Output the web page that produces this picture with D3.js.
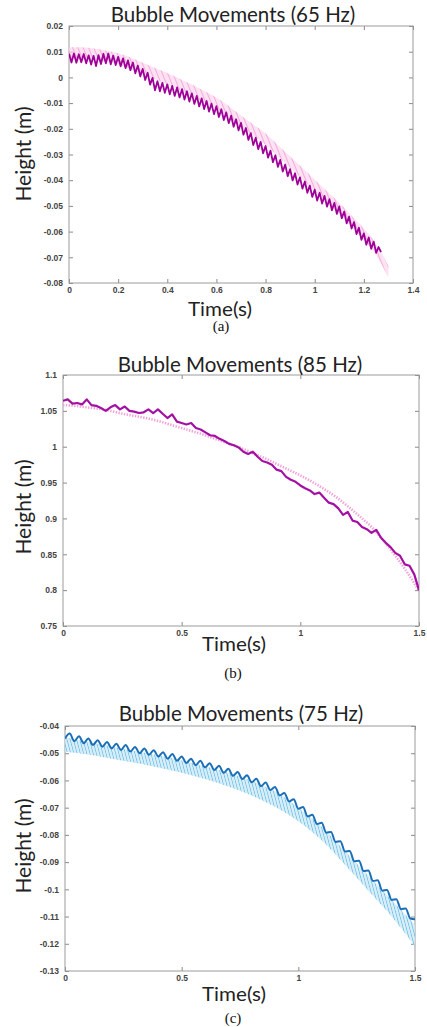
<!DOCTYPE html>
<html>
<head>
<meta charset="utf-8">
<script src="https://d3js.org/d3.v7.min.js"></script>
<style>
  body { margin: 0; background: #fff; }
  .tick text { font-family: "Liberation Sans", Arial, sans-serif; font-weight: bold; font-size: 8.5px; fill: #444; }
  .tick line { stroke: #8a8a8a; }
  .ttl { font-family: Lato, "Open Sans", sans-serif; fill: #222; }
  .cap { font-family: "Liberation Serif", "Times New Roman", serif; fill: #111; }
</style>
</head>
<body>
<script>

// ---------- panel (a) : 65 Hz ----------
var ticksA_y = [0.02, 0.01, 0, -0.01, -0.02, -0.03, -0.04, -0.05, -0.06, -0.07, -0.08];
var labelsA_y = ["0.02", "0.01", "0", "-0.01", "-0.02", "-0.03", "-0.04", "-0.05", "-0.06", "-0.07", "-0.08"];
var ticksA_x = [0, 0.2, 0.4, 0.6, 0.8, 1, 1.2, 1.4];
var labelsA_x = ["0", "0.2", "0.4", "0.6", "0.8", "1", "1.2", "1.4"];

// measured bubble height, one value every 0.01 s from t = 0
var measA_dt = 0.01;
var measA = [
  0.0092, 0.0058, 0.0093, 0.0057, 0.0090, 0.0059, 0.0091, 0.0055, 0.0086, 0.0050,
  0.0084, 0.0044, 0.0087, 0.0052, 0.0092, 0.0055, 0.0093, 0.0051, 0.0085, 0.0048,
  0.0080, 0.0043, 0.0074, 0.0036, 0.0066, 0.0028, 0.0058, 0.0016, 0.0046, 0.0004,
  0.0033, -0.0010, 0.0018, -0.0028, -0.0002, -0.0050, -0.0015, -0.0054, -0.0021, -0.0060,
  -0.0027, -0.0066, -0.0033, -0.0072, -0.0039, -0.0078, -0.0046, -0.0086, -0.0054, -0.0094,
  -0.0062, -0.0103, -0.0072, -0.0113, -0.0082, -0.0123, -0.0092, -0.0133, -0.0102, -0.0143,
  -0.0112, -0.0154, -0.0124, -0.0166, -0.0136, -0.0178, -0.0149, -0.0192, -0.0163, -0.0206,
  -0.0177, -0.0223, -0.0197, -0.0243, -0.0217, -0.0263, -0.0235, -0.0279, -0.0251, -0.0295,
  -0.0267, -0.0312, -0.0285, -0.0330, -0.0303, -0.0348, -0.0321, -0.0366, -0.0339, -0.0384,
  -0.0357, -0.0401, -0.0373, -0.0417, -0.0389, -0.0433, -0.0405, -0.0449, -0.0421, -0.0465,
  -0.0437, -0.0479, -0.0449, -0.0491, -0.0461, -0.0503, -0.0474, -0.0517, -0.0488, -0.0531,
  -0.0502, -0.0548, -0.0522, -0.0568, -0.0542, -0.0588, -0.0563, -0.0610, -0.0585, -0.0632,
  -0.0607, -0.0651, -0.0623, -0.0667, -0.0639, -0.0683, -0.0660, -0.0680
];

// simulated height (fast oscillation) : upper / lower envelope every 0.05 s
var simA_dt = 0.05;
var simA_hi = [0.0117, 0.0117, 0.0112, 0.0105, 0.0094, 0.0077, 0.0057, 0.0037, 0.0017, -0.0005,
  -0.0028, -0.0053, -0.0078, -0.0111, -0.0148, -0.0183, -0.0218, -0.0263, -0.0308, -0.0353,
  -0.0398, -0.0443, -0.0488, -0.0538, -0.0588, -0.0648, -0.0735];
var simA_lo = [0.0073, 0.0073, 0.0068, 0.0061, 0.0050, 0.0033, 0.0013, -0.0007, -0.0027, -0.0049,
  -0.0072, -0.0097, -0.0122, -0.0155, -0.0192, -0.0227, -0.0262, -0.0307, -0.0352, -0.0397,
  -0.0442, -0.0487, -0.0532, -0.0582, -0.0632, -0.0692, -0.0778];

// ---------- panel (b) : 85 Hz ----------
var ticksB_y = [1.1, 1.05, 1, 0.95, 0.9, 0.85, 0.8, 0.75];
var labelsB_y = ["1.1", "1.05", "1", "0.95", "0.9", "0.85", "0.8", "0.75"];
var ticksB_x = [0, 0.5, 1, 1.5];
var labelsB_x = ["0", "0.5", "1", "1.5"];

var measB_dt = 0.02;
var measB = [
  1.064, 1.066, 1.060, 1.061, 1.059, 1.066, 1.058, 1.057, 1.054, 1.050,
  1.055, 1.058, 1.052, 1.056, 1.050, 1.049, 1.047, 1.048, 1.052, 1.047,
  1.052, 1.046, 1.040, 1.045, 1.035, 1.033, 1.031, 1.033, 1.026, 1.024,
  1.020, 1.016, 1.015, 1.011, 1.008, 1.004, 1.002, 0.999, 0.993, 0.990,
  0.993, 0.986, 0.980, 0.978, 0.975, 0.968, 0.966, 0.958, 0.954, 0.951,
  0.946, 0.942, 0.939, 0.934, 0.936, 0.929, 0.922, 0.920, 0.914, 0.905,
  0.909, 0.897, 0.895, 0.888, 0.885, 0.880, 0.884, 0.873, 0.866, 0.860,
  0.852, 0.848, 0.836, 0.834, 0.822, 0.800
];

var simB_dt = 0.05;
var simB = [
  1.058, 1.057, 1.055, 1.053, 1.050, 1.046, 1.043, 1.040, 1.036, 1.031,
  1.026, 1.021, 1.016, 1.010, 1.004, 0.998, 0.991, 0.984, 0.976, 0.968,
  0.960, 0.951, 0.941, 0.930, 0.917, 0.903, 0.888, 0.869, 0.848, 0.825, 0.799
];

// ---------- panel (c) : 75 Hz ----------
var ticksC_y = [-0.04, -0.05, -0.06, -0.07, -0.08, -0.09, -0.1, -0.11, -0.12, -0.13];
var labelsC_y = ["-0.04", "-0.05", "-0.06", "-0.07", "-0.08", "-0.09", "-0.1", "-0.11", "-0.12", "-0.13"];
var ticksC_x = [0, 0.5, 1, 1.5];
var labelsC_x = ["0", "0.5", "1", "1.5"];

var measC_dt = 0.02;
var measC = [
  -0.0446, -0.0428, -0.0456, -0.0438, -0.0463, -0.0446, -0.0470, -0.0452, -0.0476, -0.0459,
  -0.0482, -0.0465, -0.0488, -0.0470, -0.0494, -0.0477, -0.0500, -0.0483, -0.0506, -0.0489,
  -0.0512, -0.0496, -0.0520, -0.0503, -0.0528, -0.0512, -0.0536, -0.0520, -0.0544, -0.0528,
  -0.0552, -0.0537, -0.0562, -0.0546, -0.0572, -0.0557, -0.0583, -0.0569, -0.0595, -0.0581,
  -0.0607, -0.0594, -0.0621, -0.0608, -0.0635, -0.0624, -0.0655, -0.0646, -0.0677, -0.0669,
  -0.0704, -0.0698, -0.0732, -0.0726, -0.0760, -0.0755, -0.0792, -0.0789, -0.0826, -0.0823,
  -0.0861, -0.0859, -0.0897, -0.0895, -0.0933, -0.0931, -0.0969, -0.0967, -0.1005, -0.1002,
  -0.1039, -0.1036, -0.1073, -0.1070, -0.1107, -0.1110
];

var simC_dt = 0.1;
var simC_hi = [-0.0440, -0.0460, -0.0475, -0.0492, -0.0507, -0.0527, -0.0548, -0.0572, -0.0602, -0.0640,
  -0.0700, -0.0770, -0.0860, -0.0950, -0.1040, -0.1130];
var simC_lo = [-0.0495, -0.0505, -0.0520, -0.0535, -0.0552, -0.0572, -0.0595, -0.0622, -0.0655, -0.0697,
  -0.0750, -0.0820, -0.0910, -0.1005, -0.1100, -0.1210];


var svg = d3.select("body").append("svg").attr("width", 427).attr("height", 1027);
var defs = svg.append("defs");

function hatch(id, color, w, angle, sw) {
  var p = defs.append("pattern").attr("id", id)
    .attr("patternUnits", "userSpaceOnUse")
    .attr("width", w).attr("height", 10)
    .attr("patternTransform", "rotate(" + angle + ")");
  p.append("line").attr("x1", 0).attr("y1", 0).attr("x2", 0).attr("y2", 10)
    .attr("stroke", color).attr("stroke-width", sw);
}
hatch("hatchA", "#f08fcf", 4.9, -22, 1.3);
hatch("hatchC", "#3fa9dd", 3.1, -15, 1.0);

function series(vals, dt) {
  return vals.map(function(v, i) { return {t: i * dt, v: v}; });
}
function band(hi, lo, dt) {
  return hi.map(function(v, i) { return {t: i * dt, hi: v, lo: lo[i]}; });
}

function frame(p) {
  var x = d3.scaleLinear().domain(p.xDomain).range([p.left, p.right]);
  var y = d3.scaleLinear().domain(p.yDomain).range([p.bottom, p.top]);
  var g = svg.append("g");

  g.append("g").attr("transform", "translate(0," + p.bottom + ")")
    .call(d3.axisBottom(x).tickValues(p.xTicks).tickFormat(function(d, i) { return p.xLabels[i]; })
      .tickSize(-4).tickPadding(4));
  g.append("g").attr("transform", "translate(0," + p.top + ")")
    .call(d3.axisTop(x).tickValues(p.xTicks).tickFormat("").tickSize(-4));
  g.append("g").attr("transform", "translate(" + p.left + ",0)")
    .call(d3.axisLeft(y).tickValues(p.yTicks).tickFormat(function(d, i) { return p.yLabels[i]; })
      .tickSize(-4).tickPadding(6));
  g.append("g").attr("transform", "translate(" + p.right + ",0)")
    .call(d3.axisRight(y).tickValues(p.yTicks).tickFormat("").tickSize(-4));
  g.selectAll(".domain").remove();

  g.append("rect").attr("x", p.left).attr("y", p.top)
    .attr("width", p.right - p.left).attr("height", p.bottom - p.top)
    .attr("fill", "none").attr("stroke", "#9b9b9b").attr("stroke-width", 1);

  defs.append("clipPath").attr("id", "clip" + p.id).append("rect")
    .attr("x", p.left).attr("y", p.top)
    .attr("width", p.right - p.left).attr("height", p.bottom - p.top);
  var plot = g.append("g").attr("clip-path", "url(#clip" + p.id + ")");

  g.append("text").attr("class", "ttl").attr("x", p.titleX).attr("y", p.titleY)
    .attr("text-anchor", "middle").style("font-size", "20.5px").text(p.title);
  g.append("text").attr("class", "ttl")
    .attr("transform", "translate(31," + p.ylabY + ") rotate(-90)")
    .attr("text-anchor", "middle").style("font-size", "21px").text("Height (m)");
  g.append("text").attr("class", "ttl").attr("x", p.xlabX).attr("y", p.xlabY)
    .attr("text-anchor", "middle").style("font-size", "20px")
    .attr("textLength", 64).attr("lengthAdjust", "spacingAndGlyphs").text("Time(s)");
  g.append("text").attr("class", "cap").attr("x", p.capX).attr("y", p.capY)
    .attr("text-anchor", "middle").style("font-size", "15px").text(p.cap);

  return {x: x, y: y, plot: plot};
}

// (a)
var A = frame({id: "A", left: 69, right: 413, top: 26, bottom: 283,
  xDomain: [0, 1.4], yDomain: [-0.08, 0.02],
  xTicks: ticksA_x, xLabels: labelsA_x, yTicks: ticksA_y, yLabels: labelsA_y,
  title: "Bubble Movements (65 Hz)", titleX: 233, titleY: 22,
  ylabY: 154, xlabX: 220, xlabY: 316, cap: "(a)", capX: 221, capY: 331});

A.plot.append("path").datum(band(simA_hi, simA_lo, simA_dt))
  .attr("d", d3.area().x(function(d) { return A.x(d.t); })
    .y0(function(d) { return A.y(d.lo); }).y1(function(d) { return A.y(d.hi); })
    .curve(d3.curveMonotoneX))
  .attr("fill", "#fbd6ee").attr("opacity", 0.7);
A.plot.append("path").datum(band(simA_hi, simA_lo, simA_dt))
  .attr("d", d3.area().x(function(d) { return A.x(d.t); })
    .y0(function(d) { return A.y(d.lo); }).y1(function(d) { return A.y(d.hi); })
    .curve(d3.curveMonotoneX))
  .attr("fill", "url(#hatchA)");
A.plot.append("path").datum(series(measA, measA_dt))
  .attr("d", d3.line().x(function(d) { return A.x(d.t); }).y(function(d) { return A.y(d.v); }))
  .attr("fill", "none").attr("stroke", "#9e0098").attr("stroke-width", 1.8)
  .attr("stroke-linejoin", "round");

// (b)
var B = frame({id: "B", left: 63, right: 419, top: 375, bottom: 626,
  xDomain: [0, 1.5], yDomain: [0.75, 1.1],
  xTicks: ticksB_x, xLabels: labelsB_x, yTicks: ticksB_y, yLabels: labelsB_y,
  title: "Bubble Movements (85 Hz)", titleX: 240, titleY: 372,
  ylabY: 507, xlabX: 234, xlabY: 651, cap: "(b)", capX: 233, capY: 678});

B.plot.append("path").datum(series(simB, simB_dt))
  .attr("d", d3.line().x(function(d) { return B.x(d.t); }).y(function(d) { return B.y(d.v); })
    .curve(d3.curveMonotoneX))
  .attr("fill", "none").attr("stroke", "#f2a2d8").attr("stroke-width", 2.6)
  .attr("stroke-dasharray", "1.4 1.4");
B.plot.append("path").datum(series(measB, measB_dt))
  .attr("d", d3.line().x(function(d) { return B.x(d.t); }).y(function(d) { return B.y(d.v); }))
  .attr("fill", "none").attr("stroke", "#a310a3").attr("stroke-width", 2.2)
  .attr("stroke-linejoin", "round");

// (c)
var C = frame({id: "C", left: 65, right: 415, top: 726, bottom: 971,
  xDomain: [0, 1.5], yDomain: [-0.13, -0.04],
  xTicks: ticksC_x, xLabels: labelsC_x, yTicks: ticksC_y, yLabels: labelsC_y,
  title: "Bubble Movements (75 Hz)", titleX: 241, titleY: 721,
  ylabY: 846, xlabX: 234, xlabY: 1001, cap: "(c)", capX: 233, capY: 1023});

C.plot.append("path").datum(band(simC_hi, simC_lo, simC_dt))
  .attr("d", d3.area().x(function(d) { return C.x(d.t); })
    .y0(function(d) { return C.y(d.lo); }).y1(function(d) { return C.y(d.hi); })
    .curve(d3.curveMonotoneX))
  .attr("fill", "#cdeaf8").attr("opacity", 0.8);
C.plot.append("path").datum(band(simC_hi, simC_lo, simC_dt))
  .attr("d", d3.area().x(function(d) { return C.x(d.t); })
    .y0(function(d) { return C.y(d.lo); }).y1(function(d) { return C.y(d.hi); })
    .curve(d3.curveMonotoneX))
  .attr("fill", "url(#hatchC)");
C.plot.append("path").datum(series(measC, measC_dt))
  .attr("d", d3.line().x(function(d) { return C.x(d.t); }).y(function(d) { return C.y(d.v); })
    .curve(d3.curveMonotoneX))
  .attr("fill", "none").attr("stroke", "#1b6fb7").attr("stroke-width", 2)
  .attr("stroke-linejoin", "round");

</script>
</body>
</html>
